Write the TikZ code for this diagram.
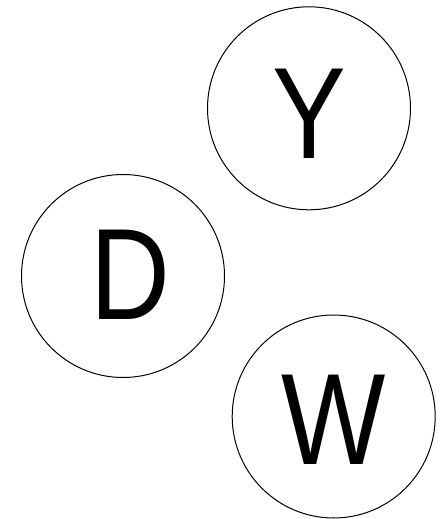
\documentclass[tikz,border=0pt]{standalone}
\usepackage{fontspec}
\setmainfont{Liberation Sans}
\begin{document}
\begin{tikzpicture}[x=1pt,y=-1pt,
  ring/.style={draw=black,line width=1pt,circle,minimum size=203pt,inner sep=0pt},
  letter/.style={inner sep=0pt,font=\fontsize{130}{130}\selectfont,xscale=0.85}]
\useasboundingbox (0,0) rectangle (440,519);
\node[ring] (cy) at (309,108.3) {};
\node[ring] (cd) at (123,276) {};
\node[ring] (cw) at (333.7,416.5) {};
\node[letter] (ly) at (309,113.5) {Y};
\node[letter] (ld) at (130,274.5) {D};
\node[letter] (lw) at (333.7,420) {W};
\end{tikzpicture}
\end{document}
